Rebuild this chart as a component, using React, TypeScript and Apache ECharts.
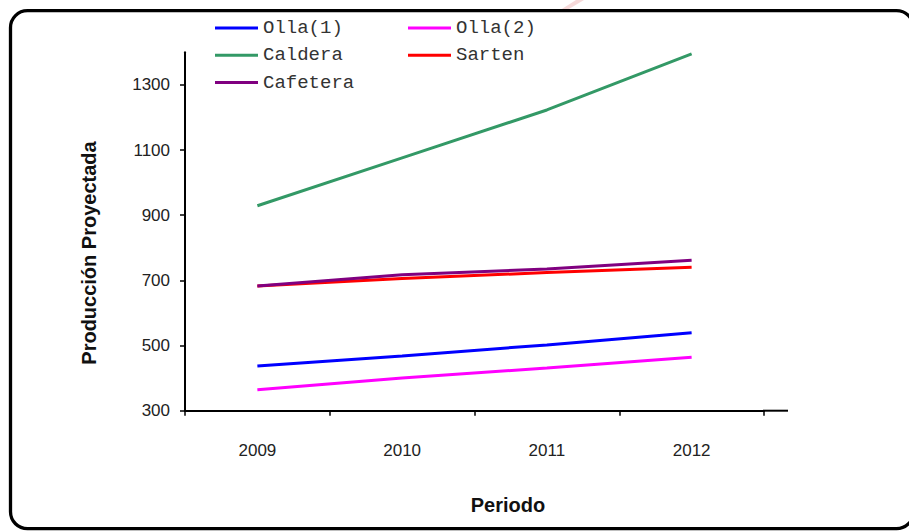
import React, { useEffect, useRef } from "react";
import * as echarts from "echarts";

// Projected production per period
const years = ["2009", "2010", "2011", "2012"];
const olla1 = [437, 468, 502, 539];
const olla2 = [364, 400, 431, 464];
const caldera = [929, 1076, 1223, 1395];
const sarten = [683, 706, 724, 740];
const cafetera = [683, 717, 735, 762];

const yTicks = [300, 500, 700, 900, 1100, 1300];

const seriesNames = ["Olla(1)", "Olla(2)", "Caldera", "Sarten", "Cafetera"];
const seriesColors = ["#0000ff", "#ff00ff", "#339966", "#ff0000", "#800080"];
const seriesData = [olla1, olla2, caldera, sarten, cafetera];

const legendTextStyle = {
  fontFamily: "Liberation Mono",
  fontSize: 19,
  color: "#333",
  lineHeight: 20,
};

const legendBase = {
  orient: "vertical",
  top: 18,
  padding: 0,
  icon: "rect",
  itemWidth: 43,
  itemHeight: 3,
  itemGap: 7.3,
  textStyle: legendTextStyle,
};

export default function App() {
  const ref = useRef<HTMLDivElement>(null);

  useEffect(() => {
    if (!ref.current) return;
    const chart = echarts.init(ref.current, undefined, { renderer: "svg" });

    chart.setOption({
      animation: false,
      backgroundColor: "#ffffff",
      grid: { left: 185, right: 145, top: 52.3, bottom: 120.3 },
      legend: [
        { ...legendBase, data: ["Olla(1)", "Caldera", "Cafetera"], left: 215 },
        { ...legendBase, data: ["Olla(2)", "Sarten"], left: 408 },
      ],
      xAxis: {
        type: "category",
        data: years,
        boundaryGap: true,
        axisLine: { lineStyle: { color: "#000", width: 2 } },
        axisTick: { show: true, length: 5, lineStyle: { color: "#000", width: 1.5 } },
        axisLabel: {
          margin: 31,
          fontFamily: "Liberation Sans",
          fontSize: 17,
          color: "#222",
        },
        splitLine: { show: false },
      },
      yAxis: {
        type: "value",
        min: 300,
        max: 1400,
        axisLine: { show: true, lineStyle: { color: "#000", width: 2 } },
        axisTick: {
          show: true,
          length: 5,
          customValues: yTicks,
          lineStyle: { color: "#000", width: 1.5 },
        },
        axisLabel: {
          customValues: yTicks,
          formatter: (v: number) => String(v),
          margin: 15,
          fontFamily: "Liberation Sans",
          fontSize: 17,
          color: "#222",
        },
        splitLine: { show: false },
      },
      series: seriesNames.map((name, i) => ({
        name,
        type: "line",
        data: seriesData[i],
        symbol: "none",
        showSymbol: false,
        color: seriesColors[i],
        itemStyle: { color: seriesColors[i] },
        lineStyle: { width: 3, color: seriesColors[i] },
        z: 2 + i,
      })),
      graphic: [
        // faint pink mark above the frame
        {
          type: "polygon",
          silent: true,
          z: 0,
          shape: { points: [[561, 9.5], [568, 9.5], [584, 0], [576, 0]] },
          style: { fill: "rgba(235, 170, 170, 0.45)" },
        },
        // rounded frame
        {
          type: "rect",
          silent: true,
          z: 10,
          shape: { x: 10.5, y: 10.7, width: 903, height: 518, r: 17 },
          style: { fill: "none", stroke: "#000", lineWidth: 3.3 },
        },
        // x axis line runs a bit past the last tick
        {
          type: "line",
          silent: true,
          z: 10,
          shape: { x1: 763, y1: 410.7, x2: 788, y2: 410.7 },
          style: { stroke: "#000", lineWidth: 2 },
        },
        {
          type: "text",
          silent: true,
          x: 89,
          y: 253,
          rotation: Math.PI / 2,
          style: {
            text: "Producción Proyectada",
            font: "bold 20px 'Liberation Sans'",
            fill: "#111",
            align: "center",
            verticalAlign: "middle",
          },
        },
        {
          type: "text",
          silent: true,
          x: 508,
          y: 505,
          style: {
            text: "Periodo",
            font: "bold 20px 'Liberation Sans'",
            fill: "#111",
            align: "center",
            verticalAlign: "middle",
          },
        },
      ],
    });

    return () => chart.dispose();
  }, []);

  return (
    <div
      ref={ref}
      style={{ position: "fixed", left: 0, top: 0, width: 909, height: 531 }}
    />
  );
}
